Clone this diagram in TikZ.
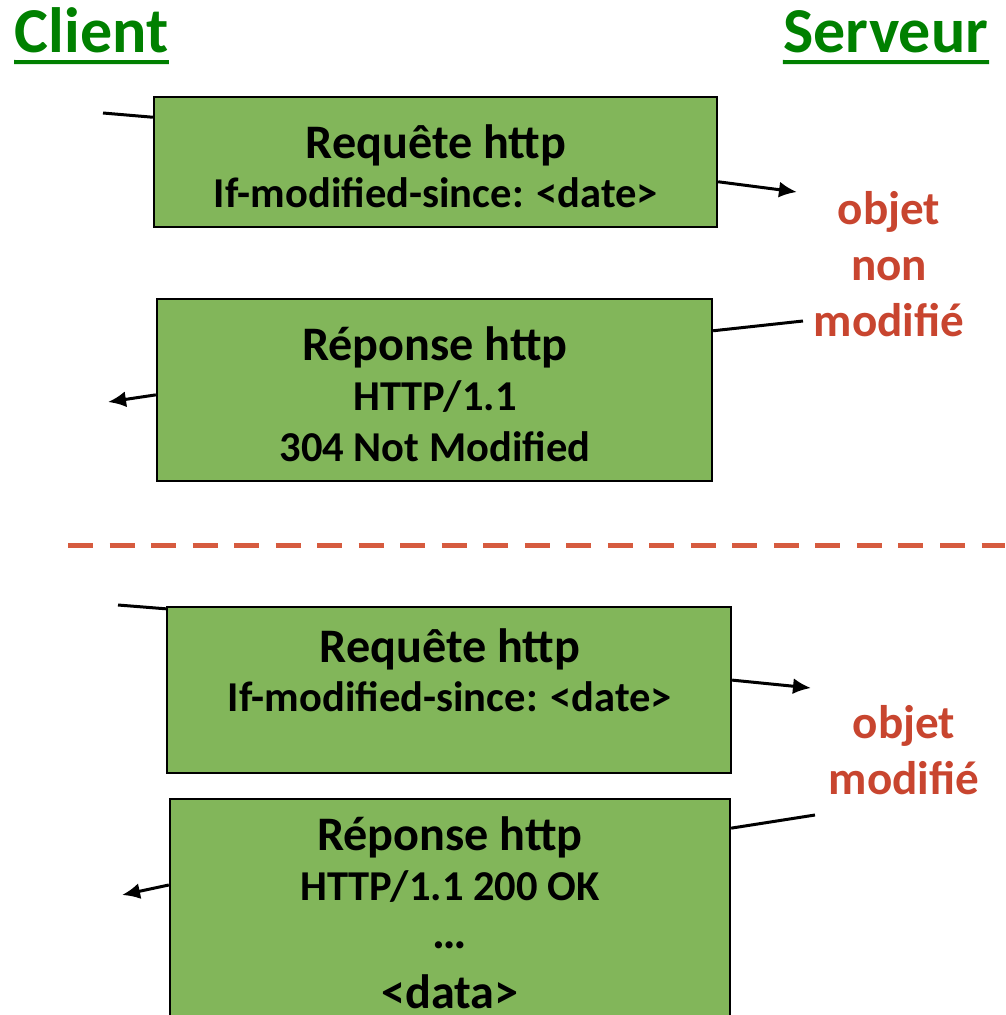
\documentclass[tikz,border=0pt]{standalone}
\usepackage{fontspec}
\setmainfont{Carlito}
\usetikzlibrary{arrows.meta}
\definecolor{boxgreen}{HTML}{82B65A}
\definecolor{titlegreen}{HTML}{008000}
\definecolor{etatred}{HTML}{C8452F}
\definecolor{dashred}{HTML}{D65B3F}
\tikzset{
  pkt/.style={draw=black,line width=0.02cm,fill=boxgreen,inner sep=0pt},
  titre/.style={anchor=base,inner sep=0pt,align=center,font=\bfseries\fontsize{13.7}{17}\selectfont},
  corps/.style={anchor=base,inner sep=0pt,align=center,font=\bfseries\fontsize{12.1}{14.3}\selectfont},
  etat/.style={anchor=base,inner sep=0pt,align=center,text=etatred,font=\bfseries\fontsize{13.4}{15.9}\selectfont},
  hote/.style={anchor=base,inner sep=0pt,text=titlegreen,font=\bfseries\fontsize{18.2}{20}\selectfont},
  lien/.style={line width=0.03cm},
  fleche/.style={line width=0.03cm,-{Latex[length=0.18cm,width=0.16cm]}}
}
\begin{document}
\begin{tikzpicture}[x=0.01cm,y=-0.01cm]
	\useasboundingbox(0,0)rectangle(1005,1015);
	% en-tetes
	\node[hote,anchor=base west](client)at(14,52){Client};
	\node[hote,anchor=base east](serveur)at(989,52){Serveur};
	\draw[titlegreen,line width=0.04cm](client.base west)++(0,10)--([yshift=-0.1cm]client.base east);
	\draw[titlegreen,line width=0.04cm](serveur.base west)++(0,10)--([yshift=-0.1cm]serveur.base east);
	% objet non modifie
	\node[pkt,minimum width=5.63cm,minimum height=1.30cm](req1)at(435.5,162){};
	\node[titre](req1t)at(436,158){Requête http};
	\node[corps](req1c)at(436,207){If-modified-since: <date>};
	\node[pkt,minimum width=5.55cm,minimum height=1.82cm](rep1)at(434.5,390){};
	\node[titre](rep1t)at(435,360){Réponse http};
	\node[corps](rep1c)at(435,461){HTTP/1.1\\304 Not Modified};
	\node[etat](etat1)at(889,336){objet\\non\\modifié};
	\coordinate(c1)at(103,113);
	\coordinate(a1)at(797,192);
	\coordinate(c2)at(803,321);
	\coordinate(a2)at(108,402);
	\draw[lien](c1)--(req1.171.5);
	\draw[fleche](req1.-4.3)--(a1);
	\draw[lien](c2)--(rep1.12.2);
	\draw[fleche](rep1.181)--(a2);
	% separation
	\draw[dashred,line width=0.05cm,dash pattern=on 0.25cm off 0.165cm](68,545)--(1005,545);
	% objet modifie
	\node[pkt,minimum width=5.64cm,minimum height=1.66cm](req2)at(449,690){};
	\node[titre](req2t)at(450,662){Requête http};
	\node[corps](req2c)at(450,711){If-modified-since: <date>};
	\node[pkt,minimum width=5.60cm,minimum height=2.41cm](rep2)at(450,919.5){};
	\node[titre](rep2t)at(450,850){Réponse http};
	\node[corps](rep2c)at(450,900){HTTP/1.1 200 OK};
	\node[titre](rep2d)at(450,1008){…\\<data>};
	\node[etat](etat2)at(904,794){objet\\modifié};
	\coordinate(c3)at(118,605);
	\coordinate(a3)at(811,688);
	\coordinate(c4)at(815,815);
	\coordinate(a4)at(122,895);
	\draw[lien](c3)--(req2.164.5);
	\draw[fleche](req2.2.4)--(a3);
	\draw[lien](c4)--(rep2.18.5);
	\draw[fleche](rep2.173.8)--(a4);
\end{tikzpicture}
\end{document}
